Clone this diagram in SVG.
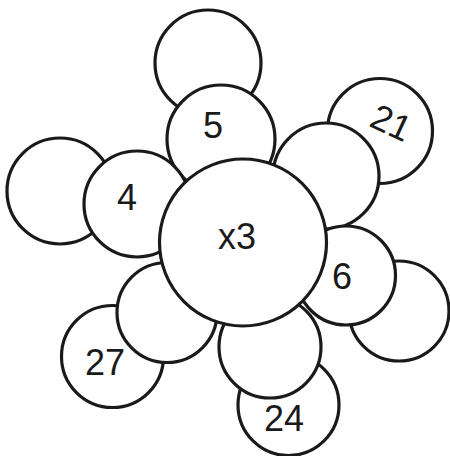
<svg xmlns="http://www.w3.org/2000/svg" width="450" height="456" viewBox="0 0 450 456">
<style>
.c{fill:#fff;stroke:#1a1a1a;stroke-width:3.2}
.t{font-family:"Liberation Sans",Arial,sans-serif;font-size:36px;fill:#1a1a1a;text-anchor:middle}
</style>
<rect width="450" height="456" fill="#fff"/>
<g id="connectors"></g>
<g id="outer">
<g id="o-top"><circle class="c" cx="208" cy="63" r="53"/></g>
<g id="o-21"><circle class="c" cx="380" cy="131" r="52.5"/><text class="t" transform="translate(386,134) rotate(25)">21</text></g>
<g id="o-left"><circle class="c" cx="60" cy="191" r="53"/></g>
<g id="o-right"><circle class="c" cx="399" cy="311" r="50"/></g>
<g id="o-24"><circle class="c" cx="288.5" cy="405" r="50.5"/><text class="t" x="284" y="431">24</text></g>
<g id="o-27"><circle class="c" cx="112.5" cy="356.5" r="51"/><text class="t" x="105" y="375">27</text></g>
</g>
<g id="inner">
<g id="i-5"><circle class="c" cx="221" cy="139" r="54"/><text class="t" x="213" y="137.5">5</text></g>
<g id="i-ur"><circle class="c" cx="326" cy="176" r="53"/></g>
<g id="i-4"><circle class="c" cx="137" cy="204" r="53"/><text class="t" x="127" y="210">4</text></g>
<g id="i-6"><circle class="c" cx="346" cy="275.5" r="49.5"/><text class="t" x="342" y="289">6</text></g>
<g id="i-b"><circle class="c" cx="270" cy="347" r="51"/></g>
<g id="i-ll"><circle class="c" cx="167" cy="312.5" r="50"/></g>
</g>
<g id="center"><circle class="c" cx="243" cy="242.5" r="83.5"/><text class="t" x="237" y="248.5">x3</text></g>
</svg>
